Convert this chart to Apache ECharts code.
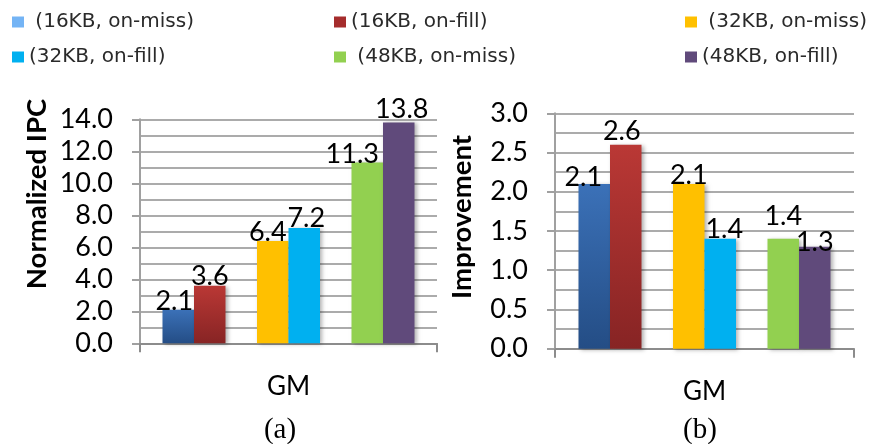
<!DOCTYPE html>
<html>
<head>
<meta charset="utf-8">
<script src="https://cdn.jsdelivr.net/npm/echarts@6/dist/echarts.min.js"></script>
<style>
  html, body { margin: 0; padding: 0; background: #fff; }
  #chart { width: 870px; height: 444px; }
</style>
</head>
<body>
<div id="chart"></div>
<script>
// Configurations shown in both panels (the on-miss names carry a leading space)
const configNames = [' (16KB, on-miss)', '(16KB, on-fill)', ' (32KB, on-miss)', '(32KB, on-fill)', ' (48KB, on-miss)', '(48KB, on-fill)'];
const categories = ['GM'];

// Panel (a): normalized IPC
const ipcValues = [2.1, 3.6, 6.4, 7.2, 11.3, 13.8];
// Panel (b): improvement
const improvementValues = [2.1, 2.6, 2.1, 1.4, 1.4, 1.3];

// Axis ranges
const ipcAxis = { min: 0, max: 14, interval: 2 };
const improvementAxis = { min: 0, max: 3, interval: 0.5 };

// Label nudges [dx, dy] so neighbouring value labels do not collide
const ipcLabelShift = [[-4, 1], [0, 0], [-5, 1], [2, 0], [-15, 1], [3, -4]];
const improvementLabelShift = [[-11, 3], [-4, -4], [0, 1], [4, 0], [0, -13], [0, 5]];

const G = echarts.graphic.LinearGradient;
const barColors = [
  new G(0, 0, 0, 1, [{ offset: 0, color: '#3b71b8' }, { offset: 1, color: '#244d85' }]),
  new G(0, 0, 0, 1, [{ offset: 0, color: '#ba3835' }, { offset: 1, color: '#872424' }]),
  '#ffc000',
  '#00b0f0',
  '#92d050',
  '#604a7b'
];
const legendColors = ['#74b4f5', '#a52c2c', '#ffc000', '#00b0f0', '#92d050', '#604a7b'];

const numFont = 'Lato';
const gridLine = { color: '#ababab', width: 2 };

function yAxisFor(gridIndex, range) {
  return {
    type: 'value', gridIndex: gridIndex,
    min: range.min, max: range.max, interval: range.interval,
    axisLine: { show: true, lineStyle: { color: '#a0a0a0', width: 2 } },
    axisTick: { show: true, length: 8, lineStyle: { color: '#a0a0a0', width: 2 } },
    axisLabel: {
      margin: 27, color: '#000', fontFamily: numFont, fontSize: 27,
      formatter: v => v.toFixed(1)
    },
    splitLine: { show: true, lineStyle: gridLine },
    minorTick: { show: false, splitNumber: 2 },
    minorSplitLine: { show: true, lineStyle: gridLine }
  };
}

function xAxisFor(gridIndex) {
  return {
    type: 'category', gridIndex: gridIndex, data: categories,
    boundaryGap: true,
    name: 'GM', nameLocation: 'middle', nameGap: 30,
    nameTextStyle: { color: '#000', fontFamily: numFont, fontSize: 26 },
    axisLine: { show: true, lineStyle: { color: '#8c8c8c', width: 2 } },
    axisTick: { show: true, length: 9, lineStyle: { color: '#8c8c8c', width: 2 } },
    axisLabel: { show: false }
  };
}

// Bars run in pairs with an empty slot between each pair
function seriesFor(gridIndex, values, shifts) {
  const out = [];
  values.forEach((v, i) => {
    if (i === 2 || i === 4) {
      out.push({ type: 'bar', name: 'spacer', xAxisIndex: gridIndex, yAxisIndex: gridIndex,
                 data: [null], barWidth: 31.5, barGap: '0%', silent: true });
    }
    out.push({
      type: 'bar',
      name: configNames[i],
      xAxisIndex: gridIndex, yAxisIndex: gridIndex,
      barWidth: 31.5, barGap: '0%',
      data: [v],
      itemStyle: {
        color: barColors[i],
        shadowColor: 'rgba(0,0,0,0.3)', shadowBlur: 4, shadowOffsetX: 2, shadowOffsetY: 1
      },
      label: {
        show: true, position: 'top', distance: -4,
        offset: shifts[i],
        color: '#000', fontFamily: numFont, fontSize: 27,
        formatter: p => p.value.toFixed(1)
      }
    });
  });
  return out;
}

function legendColumn(left, names) {
  return {
    orient: 'vertical', left: left, top: 7,
    itemWidth: 12, itemHeight: 11, itemGap: 15,
    icon: 'rect',
    textStyle: { color: '#2a2a2a', fontFamily: 'DejaVu Sans', fontSize: 20, lineHeight: 20 },
    data: names.map(n => ({ name: n, itemStyle: { color: legendColors[configNames.indexOf(n)] } }))
  };
}

const chart = echarts.init(document.getElementById('chart'), null, { renderer: 'canvas' });
chart.setOption({
  animation: false,
  backgroundColor: '#fff',
  legend: [
    legendColumn(7, [configNames[0], configNames[3]]),
    legendColumn(329, [configNames[1], configNames[4]]),
    legendColumn(680, [configNames[2], configNames[5]])
  ],
  grid: [
    { left: 140, right: 433, top: 119.3, bottom: 100.7 },
    { left: 555, right: 16, top: 113.3, bottom: 95.3 }
  ],
  xAxis: [xAxisFor(0), xAxisFor(1)],
  yAxis: [yAxisFor(0, ipcAxis), yAxisFor(1, improvementAxis)],
  series: seriesFor(0, ipcValues, ipcLabelShift).concat(seriesFor(1, improvementValues, improvementLabelShift)),
  graphic: [
    { type: 'text', x: 37, y: 194, rotation: Math.PI / 2,
      style: { text: 'Normalized IPC', fill: '#000', font: 'bold 27.5px Lato', textAlign: 'center', textVerticalAlign: 'middle' } },
    { type: 'text', x: 462, y: 217, rotation: Math.PI / 2,
      style: { text: 'Improvement', fill: '#000', font: 'bold 27.5px Lato', textAlign: 'center', textVerticalAlign: 'middle' } },
    { type: 'text', x: 280, y: 430,
      style: { text: '(a)', fill: '#000', font: '29px "Liberation Serif"', textAlign: 'center', textVerticalAlign: 'middle' } },
    { type: 'text', x: 700, y: 430,
      style: { text: '(b)', fill: '#000', font: '29px "Liberation Serif"', textAlign: 'center', textVerticalAlign: 'middle' } }
  ]
});
</script>
</body>
</html>
